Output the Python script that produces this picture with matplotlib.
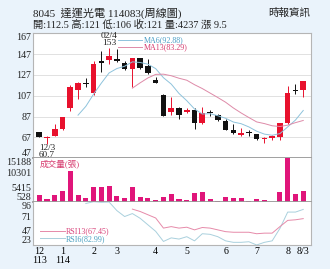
import matplotlib

matplotlib.use("Agg")
import matplotlib.pyplot as plt
import numpy as np

nan = np.nan

# ---------------------------------------------------------------------------
# Data: weekly candles, 35 weeks (Dec 113 .. 8/3 114)
# ---------------------------------------------------------------------------
OPEN = [72, 66, 68.2, 75, 95.5, 112.5, 119, 110, 140, 141,
        142.5, 138.5, 133, 143, 136, 122, 108, 91, 95.5, 91,
        93, 81, 91.5, 89, 82.5, 74.5, 69, 71.8, 70, 65.2,
        66.8, 67.5, 80.5, 112.5, 112.5]
HIGH = [72.5, 68, 80, 87, 117, 120.5, 124, 140, 150, 153,
        152, 140.5, 143.5, 143.5, 142, 125, 108.5, 106, 96, 95.5,
        95, 96, 93, 89.5, 85, 80, 76, 74.5, 70.5, 67.5,
        69, 81, 116, 118, 121]
LOW = [67, 60.7, 68, 74.5, 92, 104, 115.5, 108, 130, 137,
       139, 131.5, 115.5, 133, 128, 119, 87.5, 88.5, 85, 90,
       75.5, 80, 88, 83, 74, 70.5, 68.5, 68.5, 65, 61.7,
       65, 64.5, 79.5, 108.5, 106]
CLOSE = [67.5, 67.5, 75, 86.5, 115, 119, 118, 137.5, 138.5, 145.5,
         140, 132.5, 143, 134, 129, 119.5, 88, 95.5, 89, 93,
         81, 90.5, 90, 83.5, 74.5, 71, 71.5, 71.5, 65.5, 66.8,
         68, 80.5, 110, 111.5, 121]
VOLUME = [2830, 1350, 2830, 4300, 10800, 2830, 1700, 5470, 5330, 5810,
          2380, 1700, 5330, 2250, 1700, 1010, 1950, 3100, 1560, 1110,
          3410, 3750, 1560, 870, 2040, 1900, 1700, 870, 1560, 1220,
          528, 3860, 15188, 3070, 4237]
MA6 = [nan, nan, nan, nan, nan, 88.4, 96.8, 108.5, 119.1, 128.9,
       133.1, 135.3, 139.5, 138.9, 137.3, 133.0, 124.3, 118.2, 109.2, 102.3,
       94.3, 89.5, 89.8, 87.8, 85.4, 81.8, 80.2, 77.1, 73.0, 70.2,
       69.1, 70.7, 77.1, 83.7, 92.88]
MA13 = [nan, nan, nan, nan, nan, nan, nan, nan, nan, nan,
        nan, nan, 114.3, 119.4, 124.1, 127.5, 127.7, 126.2, 123.8, 121.9,
        117.6, 113.9, 109.6, 105.3, 100.8, 95.3, 90.5, 86.1, 81.9, 80.3,
        78.2, 77.5, 78.8, 81.2, 83.29]
RSI6 = [nan, nan, nan, nan, nan, nan, 93, 96, 95, 95.5,
        81, 71, 76, 68, 57, 46, 29, 35, 33, 37,
        30, 42, 41, 37, 30, 27.5, 27.5, 28.5, 23, 27.5,
        30, 51, 78.5, 78.5, 82.99]
RSI13 = [nan, nan, nan, nan, nan, nan, nan, nan, nan, nan,
         nan, nan, 83.5, 79.5, 74, 68.5, 51.5, 54, 51.5, 53,
         48.5, 52.5, 51.5, 48.5, 45.5, 44.5, 44.5, 44.5, 42, 43,
         43, 54, 64.5, 65.5, 67.45]

XTICK_POS = [0, 3, 7, 10, 15, 19, 24, 28, 32, 34]
XTICK_LABELS = ["12\n113", "1\n114", "2", "3", "4", "5", "6", "7", "8", "8/3"]
PRICE_TICKS = [47, 67, 87, 107, 127, 147, 167]
VOL_TICKS = [528, 5415, 10301, 15188]
RSI_TICKS = [23, 47, 71, 96]
HIGH_DATE = "02/4"
LOW_DATE = "12/3"

# ---------------------------------------------------------------------------
# Style
# ---------------------------------------------------------------------------
BG = "#eaf3fb"
RED = "#e8112d"
BLACK = "#111111"
VOL_C = "#e0157a"
MA6_C, MA6_T = "#8ec3dc", "#4a9ec6"
MA13_C, MA13_T = "#de8aa8", "#d63a6e"
RSI6_C, RSI6_T = "#a9d0dd", "#4aa0c0"
RSI13_C, RSI13_T = "#e68aa9", "#d8437a"
TXT = "#222222"
FONTS = ["Liberation Serif", "Noto Sans CJK TC"]

plt.rcParams.update({"font.family": FONTS, "font.size": 7.2})

W, H = 330, 269
L, R = 33, 311
fig = plt.figure(figsize=(W / 100, H / 100), dpi=100, facecolor=BG)


def panel(top, bot):
    return fig.add_axes([L / W, 1 - bot / H, (R - L) / W, (bot - top) / H])


ax_p = panel(33.2, 158.3)
ax_v = panel(158.3, 201.7)
ax_r = panel(201.7, 245.0)

x = np.arange(len(CLOSE))
o = np.array(OPEN)
c = np.array(CLOSE)
cols = np.where(c >= o, RED, BLACK)

# --- price panel ------------------------------------------------------------
ax_p.vlines(x, LOW, HIGH, colors=cols, lw=0.7, zorder=2)
ax_p.bar(x, np.maximum(np.abs(c - o), 0.7), bottom=np.minimum(o, c),
         width=0.72, color=cols, linewidth=0, zorder=3)
ax_p.plot(x, MA6, color=MA6_C, lw=0.7, zorder=4, label=f"MA6({MA6[-1]:.2f})")
ax_p.plot(x, MA13, color=MA13_C, lw=0.7, zorder=4, label=f"MA13({MA13[-1]:.2f})")

hi = int(np.argmax(HIGH))
lo = int(np.argmin(LOW))
ax_p.annotate(f"{HIGH_DATE}\n{HIGH[hi]:g}", xy=(hi, HIGH[hi]), xytext=(0, 0.5),
              textcoords="offset points", ha="center", va="bottom",
              fontsize=6.8, linespacing=0.85, color=TXT)
ax_p.annotate(f"{LOW_DATE}\n{LOW[lo]:g}", xy=(lo, LOW[lo]), xytext=(0, 0),
              textcoords="offset points", ha="center", va="top",
              fontsize=6.6, linespacing=0.8, color=TXT)

ax_p.set_ylim(PRICE_TICKS[0], PRICE_TICKS[-1])
ax_p.set_yticks(PRICE_TICKS)
ax_p.grid(axis="y", color="#dcdcdc", lw=0.6)
ax_p.legend(loc="upper left", bbox_to_anchor=(0.306, 0.975), frameon=False,
            fontsize=5.8, handlelength=3.0, handletextpad=0.15,
            labelspacing=-0.12, borderpad=0, borderaxespad=0,
            labelcolor=[MA6_T, MA13_T])

# --- volume panel -----------------------------------------------------------
ax_v.bar(x, VOLUME, width=0.65, color=VOL_C, linewidth=0)
ax_v.set_ylim(VOL_TICKS[0], VOL_TICKS[-1])
ax_v.set_yticks(VOL_TICKS)
ax_v.text(0.025, 0.86, "成交量(張)", transform=ax_v.transAxes, color=MA13_T,
          fontsize=6.2, va="center", ha="left")

# --- RSI panel --------------------------------------------------------------
l6, = ax_r.plot(x, RSI6, color=RSI6_C, lw=0.7)
l13, = ax_r.plot(x, RSI13, color=RSI13_C, lw=0.7)
ax_r.set_ylim(RSI_TICKS[0], RSI_TICKS[-1])
ax_r.set_yticks(RSI_TICKS)
ax_r.legend([l13, l6], [f"RSI13({RSI13[-1]:.2f})", f"RSI6({RSI6[-1]:.2f})"],
            loc="upper left", bbox_to_anchor=(0.025, 0.40), frameon=False,
            fontsize=5.8, handlelength=3.1, handletextpad=0.15,
            labelspacing=-0.05, borderpad=0, borderaxespad=0,
            labelcolor=[RSI13_T, RSI6_T])
ax_r.set_xticks(XTICK_POS, XTICK_LABELS)
ax_r.tick_params(axis="x", length=0, pad=1.5, labelsize=7.2)
for t in ax_r.get_xticklabels():
    t.set_linespacing(0.95)

# --- common axes formatting -------------------------------------------------
for ax in (ax_p, ax_v, ax_r):
    ax.set_facecolor("white")
    ax.set_xlim(-0.8, 35.0)
    ax.tick_params(axis="y", length=0, pad=1.2, labelsize=7.2, colors=TXT)
    for s in ax.spines.values():
        s.set_color("#b5b5b5")
        s.set_linewidth(0.8)
    labels = ax.get_yticklabels()
    labels[0].set_va("bottom")
    labels[-1].set_va("top")
for ax in (ax_p, ax_v):
    ax.set_xticks([])
    ax.spines["bottom"].set_color("#999999")
    ax.spines["bottom"].set_linewidth(1.3)
ax_v.spines["top"].set_visible(False)
ax_r.spines["top"].set_visible(False)

# --- header -----------------------------------------------------------------
fig.text(33 / W, 1 - 13 / H, "8045  達運光電 114083(周線圖)", fontsize=8,
         color=TXT, va="center", ha="left")
fig.text(33 / W, 1 - 24.5 / H,
         f"開:{OPEN[-1]:g} 高:{HIGH[-1]:g} 低:{LOW[-1]:g} 收:{CLOSE[-1]:g} "
         f"量:{VOLUME[-1]} 漲 {CLOSE[-1] - CLOSE[-2]:g}",
         fontsize=7.4, color=TXT, va="center", ha="left")
fig.text(310 / W, 1 - 13 / H, "時報資訊", fontsize=7.6, color=TXT,
         va="center", ha="right")

fig.savefig("out.png", dpi=100, facecolor=BG)
